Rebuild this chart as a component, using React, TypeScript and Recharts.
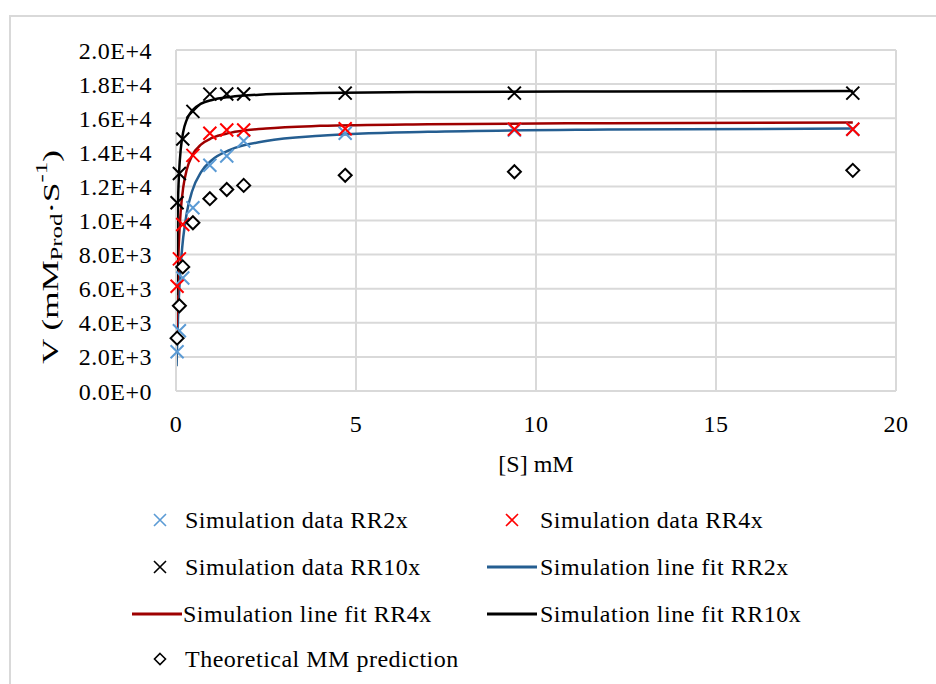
import { ComposedChart, Line, Scatter, XAxis, YAxis, CartesianGrid, Label } from "recharts";

const font = '"Liberation Serif", "Times New Roman", serif';

// measured substrate concentrations [S] (mM)
const pointS = [0.03, 0.094, 0.188, 0.47, 0.94, 1.41, 1.88, 4.7, 9.4, 18.8];
const simRR2x = [2300, 3530, 6630, 10750, 13240, 13780, 14660, 15120, 15300, 15350];
const simRR4x = [6140, 7750, 9770, 13820, 15120, 15310, 15310, 15380, 15350, 15350];
const simRR10x = [11040, 12760, 14780, 16400, 17410, 17420, 17420, 17470, 17470, 17470];
const theoryMM = [3100, 5000, 7280, 9870, 11280, 11820, 12060, 12650, 12860, 12940];

// fitted curves
const fitS = [0.015, 0.025, 0.04, 0.06, 0.09, 0.13, 0.2, 0.3, 0.45, 0.7, 1, 1.5, 2.5, 4, 7, 12, 18.8];
const fitRR2x = [1450, 2280, 3350, 4540, 5940, 7330, 8990, 10460, 11730, 12850, 13550, 14140, 14660, 14970, 15200, 15330, 15390];
const fitRR4x = [2960, 4390, 6020, 7580, 9170, 10530, 11930, 12990, 13810, 14460, 14840, 15140, 15400, 15550, 15650, 15710, 15745];
const fitRR10x = [5620, 7730, 9790, 11490, 13000, 14140, 15190, 15920, 16450, 16850, 17070, 17250, 17400, 17480, 17540, 17570, 17590];

const xTicks = [0, 5, 10, 15, 20];
const yTicks = [0, 2000, 4000, 6000, 8000, 10000, 12000, 14000, 16000, 18000, 20000];

const pts = (xs: number[], ys: number[]) => xs.map((s, i) => ({ s, v: ys[i] }));

const c2x = "#5B9BD5";
const c4x = "#FF0000";
const line2x = "#255E91";
const line4x = "#9E0000";

const cross = (color: string, r = 6.5) => (props: any) => {
    const { cx, cy } = props;
    return (
        <path
            d={`M${cx - r},${cy - r}L${cx + r},${cy + r}M${cx - r},${cy + r}L${cx + r},${cy - r}`}
            stroke={color} strokeWidth={2} fill="none"
        />
    );
};

const diamond = (props: any) => {
    const { cx, cy } = props;
    const r = 6.5;
    return (
        <path d={`M${cx},${cy - r}L${cx + r},${cy}L${cx},${cy + r}L${cx - r},${cy}Z`}
            stroke="#000" strokeWidth={2} fill="#fff" />
    );
};

// the axis title in the original is drawn stretched along its length
const yLabel = (props: any) => {
    const vb = props.viewBox || { x: 0, y: 50 };
    const cx = vb.x + 50;
    const cy = vb.y + 207;
    return (
        <text x={0} y={0} transform={`translate(${cx}, ${cy}) rotate(-90) scale(1.46, 1)`} textAnchor="middle"
            dominantBaseline="central" fontSize={24} fontFamily={font} fill="#000">
            V (mM<tspan dy={6} fontSize={17}>Prod</tspan>
            <tspan dy={-6}>·S</tspan>
            <tspan dy={-9} fontSize={17}>-1</tspan>
            <tspan dy={9}>)</tspan>
        </text>
    );
};

const xLabel = (props: any) => {
    const vb = props.viewBox || { x: 176, y: 391, width: 720 };
    return (
        <text x={vb.x + vb.width / 2} y={vb.y + 81} textAnchor="middle"
            fontSize={24} fontFamily={font} fill="#000">[S] mM</text>
    );
};

const crossIcon = (color: string) => (
    <svg width={16} height={16}><path d="M2,2L14,14M2,14L14,2" stroke={color} strokeWidth={1.6} /></svg>
);
const lineIcon = (color: string) => (
    <svg width={50} height={6}><line x1={0} y1={3} x2={50} y2={3} stroke={color} strokeWidth={3} /></svg>
);
const diamondIcon = (
    <svg width={14} height={14}><path d="M7,1.5L12.5,7L7,12.5L1.5,7Z" stroke="#000" strokeWidth={1.6} fill="#fff" /></svg>
);

const legendItems = [
    { label: "Simulation data RR2x", icon: crossIcon(c2x), iconX: 152, textX: 185, y: 520 },
    { label: "Simulation data RR4x", icon: crossIcon(c4x), iconX: 504, textX: 540, y: 520 },
    { label: "Simulation data RR10x", icon: crossIcon("#000"), iconX: 152, textX: 185, y: 567 },
    { label: "Simulation line fit RR2x", icon: lineIcon(line2x), iconX: 487, textX: 540, y: 567 },
    { label: "Simulation line fit RR4x", icon: lineIcon(line4x), iconX: 132, textX: 183, y: 614 },
    { label: "Simulation line fit RR10x", icon: lineIcon("#000"), iconX: 487, textX: 540, y: 614 },
    { label: "Theoretical MM prediction", icon: diamondIcon, iconX: 153, textX: 185, y: 659 },
];

const tick = { fontSize: 24, fill: "#000", fontFamily: font, letterSpacing: 0.5 };
const grid = "#D9D9D9";

export default function App() {
    return (
        <div style={{ position: "absolute", left: 0, top: 0, width: 936, height: 684, overflow: "hidden", background: "#fff", fontFamily: font }}>
            <div style={{ position: "absolute", left: 9, top: 15, width: 960, height: 720, borderLeft: `2px solid ${grid}`, borderTop: `2px solid ${grid}` }} />
            <div style={{ position: "absolute", left: 0, top: 0 }}>
                <ComposedChart width={936} height={684} margin={{ top: 50, right: 40, left: 0, bottom: 233 }}>
                    <CartesianGrid stroke={grid} strokeWidth={2} horizontalValues={yTicks} verticalValues={xTicks} />
                    <XAxis dataKey="s" type="number" domain={[0, 20]} ticks={xTicks} interval={0}
                        height={60} tickLine={false} tickSize={0} tickMargin={24}
                        axisLine={{ stroke: grid, strokeWidth: 2 }} tick={tick}>
                        <Label content={xLabel} />
                    </XAxis>
                    <YAxis dataKey="v" type="number" domain={[0, 20000]} ticks={yTicks} interval={0}
                        width={176} tickLine={false} tickSize={0} tickMargin={24}
                        axisLine={{ stroke: grid, strokeWidth: 2 }} tick={tick}
                        tickFormatter={(v: number) => v.toExponential(1).toUpperCase()}>
                        <Label content={yLabel} />
                    </YAxis>
                    <Line data={pts(fitS, fitRR2x)} dataKey="v" type="monotone" stroke={line2x} strokeWidth={2.5} dot={false} isAnimationActive={false} />
                    <Line data={pts(fitS, fitRR4x)} dataKey="v" type="monotone" stroke={line4x} strokeWidth={2.5} dot={false} isAnimationActive={false} />
                    <Line data={pts(fitS, fitRR10x)} dataKey="v" type="monotone" stroke="#000" strokeWidth={2.5} dot={false} isAnimationActive={false} />
                    <Scatter data={pts(pointS, simRR2x)} dataKey="v" shape={cross(c2x)} isAnimationActive={false} />
                    <Scatter data={pts(pointS, simRR4x)} dataKey="v" shape={cross(c4x)} isAnimationActive={false} />
                    <Scatter data={pts(pointS, simRR10x)} dataKey="v" shape={cross("#000")} isAnimationActive={false} />
                    <Scatter data={pts(pointS, theoryMM)} dataKey="v" shape={diamond} isAnimationActive={false} />
                </ComposedChart>
            </div>
            {legendItems.map((it) => (
                <div key={it.label}>
                    <div style={{ position: "absolute", left: it.iconX, top: it.y - 8, height: 16, display: "flex", alignItems: "center" }}>{it.icon}</div>
                    <div style={{ position: "absolute", left: it.textX, top: it.y - 15, lineHeight: "30px", fontSize: 24, letterSpacing: 0.5, color: "#000", whiteSpace: "nowrap" }}>{it.label}</div>
                </div>
            ))}
        </div>
    );
}
